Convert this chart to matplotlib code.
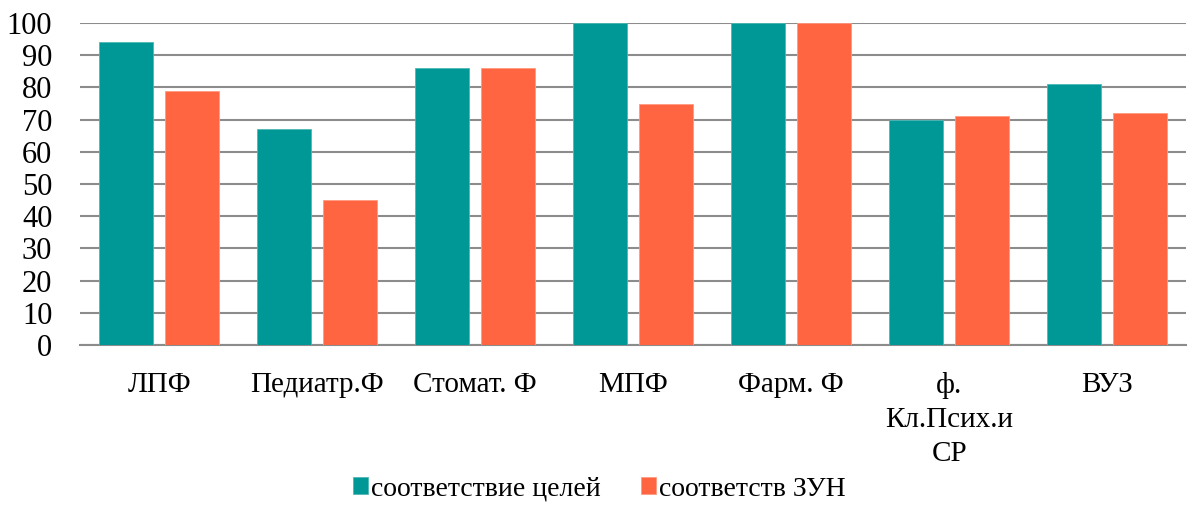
import matplotlib
matplotlib.use("Agg")
import matplotlib.pyplot as plt
import numpy as np

categories = ["ЛПФ", "Педиатр.Ф", "Стомат. Ф", "МПФ", "Фарм. Ф", "ф.\nКл.Псих.и\nСР", "ВУЗ"]
goals = [94, 67, 86, 100, 100, 70, 81]
zun = [79, 45, 86, 75, 100, 71, 72]
series_names = ["соответствие целей", "соответств ЗУН"]
yticks = [0, 10, 20, 30, 40, 50, 60, 70, 80, 90, 100]

FONT = 'Liberation Serif'
plt.rcParams['font.family'] = FONT
plt.rcParams['font.serif'] = [FONT]

fig = plt.figure(figsize=(11.95, 5.17), dpi=100)
ax = fig.add_axes([0.067, 0.3327, 0.9256, 0.6228])

x = np.arange(len(categories))
w = 0.34
gap = 0.08
teal = '#009896'
orange = '#FF6541'
ax.bar(x - (w + gap) / 2, goals, w, color=teal, edgecolor='#4db8b5', linewidth=0.6, label=series_names[0], zorder=3)
ax.bar(x + (w + gap) / 2, zun, w, color=orange, edgecolor='#ff9a80', linewidth=0.6, label=series_names[1], zorder=3)

ax.set_xlim(-0.5, len(categories) - 0.5)
ax.set_ylim(0, 100)
ax.set_yticks(yticks)
ax.yaxis.grid(True, color='#8c8c8c', linewidth=1.5, zorder=0)
ax.set_axisbelow(True)
for s in ['top', 'right', 'left']:
    ax.spines[s].set_visible(False)
ax.spines['bottom'].set_color('#8c8c8c')
ax.spines['bottom'].set_linewidth(1.5)
ax.tick_params(axis='y', length=0, pad=20, labelsize=22)
ax.tick_params(axis='x', length=0, pad=19.5, labelsize=21)
ax.set_xticks(x)
ax.set_xticklabels(categories, linespacing=1.4, family=FONT)
for t in ax.get_yticklabels():
    t.set_family(FONT)

leg = ax.legend(loc='center', bbox_to_anchor=(0.5015, 1 - 489 / 517), bbox_transform=fig.transFigure,
                ncol=2, frameon=False, prop={'family': FONT, 'size': 20}, handlelength=0.55, handleheight=0.55,
                handletextpad=0.1, columnspacing=1.45)

fig.savefig("out.png", dpi=100)
